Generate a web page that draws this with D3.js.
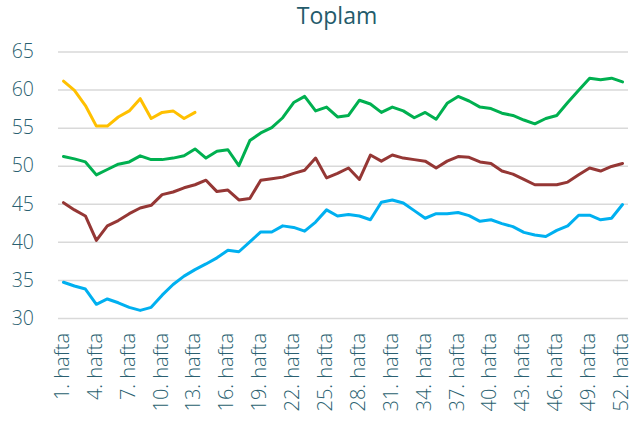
<!DOCTYPE html>
<html><head><meta charset="utf-8">
<script src="https://cdn.jsdelivr.net/npm/d3@7"></script>
<style>body{margin:0;background:#fff}svg{display:block}</style>
</head><body>
<svg id="c" width="633" height="422"></svg>
<script>
const weeks = d3.range(1, 53).map(i => i + ". hafta");
const yTicks = [30, 35, 40, 45, 50, 55, 60, 65];
const yellowVals = [61.1, 59.9, 57.9, 55.2, 55.2, 56.4, 57.2, 58.8, 56.2, 57.0, 57.2, 56.2, 57.0];
const greenVals = [51.2, 50.9, 50.5, 48.8, 49.5, 50.2, 50.5, 51.3, 50.8, 50.8, 51.0, 51.3, 52.2, 51.0, 51.9, 52.1, 50.0, 53.3, 54.3, 55.0, 56.3, 58.3, 59.1, 57.2, 57.7, 56.4, 56.6, 58.6, 58.1, 57.0, 57.7, 57.2, 56.3, 57.0, 56.1, 58.2, 59.1, 58.5, 57.7, 57.5, 56.9, 56.6, 56.0, 55.5, 56.2, 56.6, 58.3, 59.9, 61.5, 61.3, 61.5, 61.0];
const redVals = [45.15, 44.2, 43.4, 40.2, 42.1, 42.8, 43.7, 44.45, 44.8, 46.2, 46.55, 47.1, 47.5, 48.1, 46.6, 46.8, 45.5, 45.7, 48.1, 48.3, 48.5, 49.0, 49.4, 51.0, 48.4, 49.0, 49.7, 48.2, 51.4, 50.6, 51.4, 51.0, 50.8, 50.6, 49.7, 50.6, 51.2, 51.1, 50.5, 50.3, 49.3, 48.9, 48.2, 47.5, 47.5, 47.5, 47.85, 48.8, 49.7, 49.3, 49.9, 50.3];
const blueVals = [34.7, 34.2, 33.8, 31.8, 32.5, 32.0, 31.4, 31.0, 31.4, 33.0, 34.4, 35.5, 36.35, 37.1, 37.9, 38.9, 38.7, 40.0, 41.3, 41.3, 42.1, 41.9, 41.4, 42.6, 44.2, 43.4, 43.6, 43.4, 42.9, 45.2, 45.5, 45.1, 44.1, 43.1, 43.7, 43.7, 43.85, 43.45, 42.7, 42.9, 42.4, 42.0, 41.25, 40.9, 40.7, 41.5, 42.1, 43.5, 43.5, 42.9, 43.1, 44.9];
const series = [
  {name: "s4", color: "#00B0F0", values: blueVals},
  {name: "s3", color: "#953735", values: redVals},
  {name: "s2", color: "#00B050", values: greenVals},
  {name: "s1", color: "#FFC000", values: yellowVals}
];
const textColor = "#2A5F70";
const font = "'Open Sans', sans-serif";
const svg = d3.select("#c");
const mLeft = 58, mRight = 628, mTop = 51.5, mBottom = 318;
const x = d3.scaleBand().domain(weeks).range([mLeft, mRight]);
const y = d3.scaleLinear().domain([30, 65]).range([mBottom, mTop]);

svg.append("text").attr("x", 337).attr("y", 24).attr("text-anchor", "middle")
  .attr("font-family", font).attr("font-size", 23).attr("fill", "#245B6B").text("Toplam");

const yAxis = svg.append("g").attr("transform", `translate(${mLeft},0)`)
  .call(d3.axisLeft(y).tickValues(yTicks).tickSize(-(mRight - mLeft)).tickPadding(24));
yAxis.select(".domain").remove();
yAxis.selectAll("line").attr("stroke", "#d9d9d9").attr("stroke-width", 1.5);
yAxis.selectAll("text").attr("font-family", font).attr("font-size", 19.5).attr("font-weight", 300).attr("fill", textColor);

const xAxis = svg.append("g").attr("transform", `translate(0,${mBottom})`)
  .call(d3.axisBottom(x).tickValues(weeks.filter((d, i) => i % 3 === 0)).tickSize(0));
xAxis.select(".domain").remove();
xAxis.selectAll("text").attr("font-family", font).attr("font-size", 20).attr("font-weight", 300).attr("fill", textColor)
  .attr("transform", "rotate(-90)").attr("text-anchor", "end").attr("dy", "0.27em").attr("dx", "-15").attr("y", 0).attr("x", 0);

const line = d3.line().x((d, i) => x(weeks[i]) + x.bandwidth() / 2).y(d => y(d));
svg.selectAll(".ser").data(series).join("path").attr("class", "ser")
  .attr("d", d => line(d.values)).attr("fill", "none").attr("stroke", d => d.color)
  .attr("stroke-width", 3).attr("stroke-linejoin", "round").attr("stroke-linecap", "round");
</script>
</body></html>
